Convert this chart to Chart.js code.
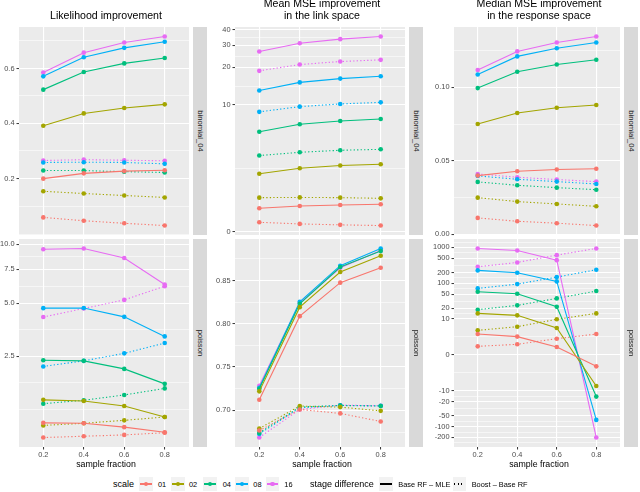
<!DOCTYPE html>
<html>
<head>
<meta charset="utf-8">
<script src="https://cdn.jsdelivr.net/npm/chart.js@4.4.0/dist/chart.umd.min.js"></script>
<style>
body { margin: 0; background: #fff; font-family: "Liberation Sans", Arial, sans-serif; }
#fig { position: relative; width: 640px; height: 492px; overflow: hidden; }
#fig canvas { position: absolute; }
.title { position: absolute; font-size: 10.6px; line-height: 11.5px; text-align: center; color: #000; white-space: nowrap; }
.strip { position: absolute; background: #D9D9D9; }
.strip span { position: absolute; left: 50%; top: 50%; transform: translate(-50%, -50%) rotate(90deg); font-size: 7.7px; color: #1A1A1A; white-space: nowrap; }
.xtitle { position: absolute; font-size: 8.8px; line-height: 11px; text-align: center; color: #000; }
.leg { position: absolute; white-space: nowrap; color: #000; }
.key { position: absolute; width: 13.5px; height: 13.5px; background: #F2F2F2; }
.key .ln { position: absolute; left: 1px; right: 1px; top: 6.2px; height: 1.1px; }
.key .pt { position: absolute; left: 4.5px; top: 4.5px; width: 4.6px; height: 4.6px; border-radius: 50%; }
</style>
</head>
<body>
<div id="fig"></div>
<script>
const fractions = ['0.2', '0.4', '0.6', '0.8'];
const scaleLevels = ['01', '02', '04', '08', '16'];
const stageLevels = ['Base RF – MLE', 'Boost – Base RF'];
const scaleColors = ['#F8766D', '#A3A500', '#00BF7D', '#00B0F6', '#E76BF3'];

// one row per scale level (01, 02, 04, 08, 16), one value per sample fraction
// Likelihood improvement
const likBinomBase = [
    [0.200, 0.219, 0.227, 0.230],
    [0.390, 0.435, 0.455, 0.468],
    [0.522, 0.587, 0.619, 0.639],
    [0.571, 0.642, 0.677, 0.700],
    [0.585, 0.659, 0.697, 0.720]
];
const likBinomBoost = [
    [0.062, 0.050, 0.041, 0.033],
    [0.155, 0.147, 0.140, 0.133],
    [0.229, 0.229, 0.225, 0.222],
    [0.258, 0.259, 0.258, 0.253],
    [0.265, 0.268, 0.266, 0.264]
];
const likPoisBase = [
    [0.59, 0.58, 0.49, 0.37],
    [1.16, 1.13, 1.00, 0.73],
    [2.35, 2.33, 2.06, 1.60],
    [4.70, 4.71, 4.22, 3.28],
    [9.46, 9.54, 8.54, 6.26]
];
const likPoisBoost = [
    [0.25, 0.28, 0.31, 0.36],
    [0.53, 0.58, 0.65, 0.73],
    [1.06, 1.15, 1.29, 1.47],
    [2.14, 2.33, 2.60, 3.00],
    [4.21, 4.68, 5.20, 6.13]
];

// Mean MSE improvement in the link space
const linkBinomBase = [
    [0.88, 0.97, 1.01, 1.04],
    [2.53, 2.86, 3.04, 3.13],
    [6.04, 6.96, 7.40, 7.70],
    [13.1, 15.2, 16.3, 17.0],
    [26.8, 31.2, 33.6, 35.3]
];
const linkBinomBoost = [
    [0.34, 0.28, 0.245, 0.22],
    [1.32, 1.33, 1.32, 1.29],
    [3.76, 4.02, 4.19, 4.27],
    [8.8, 9.7, 10.2, 10.5],
    [18.8, 21.1, 22.3, 23.0]
];
const linkPoisBase = [
    [0.7122, 0.8086, 0.8477, 0.8652],
    [0.7218, 0.8191, 0.8602, 0.8793],
    [0.7248, 0.8230, 0.8660, 0.8848],
    [0.7260, 0.8254, 0.8676, 0.8879],
    [0.7282, 0.8242, 0.8652, 0.8856]
];
const linkPoisBoost = [
    [0.6771, 0.7011, 0.6966, 0.6874],
    [0.6794, 0.7050, 0.7038, 0.6995],
    [0.6744, 0.7040, 0.7056, 0.7050],
    [0.6732, 0.7030, 0.7058, 0.7053],
    [0.6691, 0.7011, 0.7060, 0.7053]
];

// Median MSE improvement in the response space
const respBinomBase = [
    [0.0399, 0.0429, 0.0440, 0.0446],
    [0.0750, 0.0825, 0.0861, 0.0880],
    [0.0995, 0.1106, 0.1156, 0.1188],
    [0.1088, 0.1211, 0.1267, 0.1306],
    [0.1118, 0.1245, 0.1306, 0.1347]
];
const respBinomBoost = [
    [0.0111, 0.0088, 0.0075, 0.0059],
    [0.0249, 0.0222, 0.0206, 0.0190],
    [0.0356, 0.0333, 0.0317, 0.0303],
    [0.0397, 0.0374, 0.0358, 0.0342],
    [0.0410, 0.0388, 0.0372, 0.0358]
];
const respPoisBase = [
    [3.58, 2.95, 1.07, -1.59],
    [14.4, 12.7, 5.5, -7.2],
    [58, 51, 22.2, -14.4],
    [229, 197, 113, -64.7],
    [938, 825, 443, -201]
];
const respPoisBoost = [
    [1.17, 1.48, 2.5, 3.58],
    [4.66, 6.0, 9.8, 14.4],
    [18.3, 24.2, 37.9, 60.7],
    [72, 95, 149, 239],
    [289, 382, 611, 938]
];

// y tick labels
const likBinomTicks = ['0.2', '0.4', '0.6'];
const likPoisTicks = ['2.5', '5.0', '7.5', '10.0'];
const linkBinomTicks = ['0', '10', '20', '30', '40'];
const linkPoisTicks = ['0.70', '0.75', '0.80', '0.85'];
const respBinomTicks = ['0.00', '0.05', '0.10'];
const respPoisTicks = ['-200', '-100', '-50', '-20', '-10', '0', '10', '20', '50', '100', '200', '500', '1000'];

const colTitles = [['Likelihood improvement'], ['Mean MSE improvement', 'in the link space'], ['Median MSE improvement', 'in the response space']];
const rowLabels = ['binomial_04', 'poisson'];

// ggplot style pseudo-log axis: asinh(x/2), 5% expansion, minor lines halfway
const tf = v => Math.asinh(v / 2);
const itf = t => 2 * Math.sinh(t);

class PseudoLogScale extends Chart.LinearScale {
    determineDataLimits() {
        super.determineDataLimits();
        const lo = tf(this.min), hi = tf(this.max), pad = (hi - lo) * 0.05;
        this._tLo = lo - pad;
        this._tHi = hi + pad;
    }
    buildTicks() {
        const lo = this._tLo, hi = this._tHi;
        const labs = Array.from(this.options.breakLabels);
        const major = labs.map(s => ({value: Number(s), lab: s}))
            .filter(t => tf(t.value) >= lo && tf(t.value) <= hi);
        const b = major.map(t => tf(t.value)).sort((a, c) => a - c);
        const bd = b[1] - b[0];
        if (lo < b[0]) b.unshift(b[0] - bd);
        if (hi > b[b.length - 1]) b.push(b[b.length - 1] + bd);
        let cand = b.slice();
        for (let i = 0; i < b.length - 1; i++) cand.push((b[i] + b[i + 1]) / 2);
        const minor = cand.filter(t => t >= lo && t <= hi && !major.some(m => Math.abs(tf(m.value) - t) < 1e-9))
            .map(t => ({value: itf(t), minor: true, lab: ''}));
        return minor.concat(major);
    }
    getPixelForValue(value) {
        return this.getPixelForDecimal((tf(value) - this._tLo) / (this._tHi - this._tLo));
    }
    getValueForPixel(pixel) {
        return itf(this._tLo + this.getDecimalForPixel(pixel) * (this._tHi - this._tLo));
    }
}
PseudoLogScale.id = 'pseudolog';
PseudoLogScale.defaults = {};
Chart.register(PseudoLogScale);

const panelBg = {
    id: 'panelBg',
    beforeDraw(chart) {
        const a = chart.chartArea, c = chart.ctx;
        c.save();
        c.fillStyle = '#EBEBEB';
        c.fillRect(a.left, a.top, a.right - a.left, a.bottom - a.top);
        c.restore();
    }
};

const cols = [
    {left: 19, right: 193, axis: 19},
    {left: 235, right: 409, axis: 28},
    {left: 454, right: 624, axis: 31}
];
const rows = [{top: 27, bottom: 235}, {top: 239, bottom: 447}];
const stripW = 14;

const panels = [
    {col: 0, row: 0, base: likBinomBase, boost: likBinomBoost, ticks: likBinomTicks},
    {col: 1, row: 0, base: linkBinomBase, boost: linkBinomBoost, ticks: linkBinomTicks},
    {col: 2, row: 0, base: respBinomBase, boost: respBinomBoost, ticks: respBinomTicks},
    {col: 0, row: 1, base: likPoisBase, boost: likPoisBoost, ticks: likPoisTicks},
    {col: 1, row: 1, base: linkPoisBase, boost: linkPoisBoost, ticks: linkPoisTicks},
    {col: 2, row: 1, base: respPoisBase, boost: respPoisBoost, ticks: respPoisTicks}
];

const fig = document.getElementById('fig');
const FONT = '"Liberation Sans", Arial, sans-serif';

function addDiv(cls, css, html) {
    const d = document.createElement('div');
    d.className = cls;
    Object.assign(d.style, css);
    if (html !== undefined) d.innerHTML = html;
    fig.appendChild(d);
    return d;
}

function makeSets(p) {
    const sets = [];
    [p.base, p.boost].forEach((series, s) => {
        series.forEach((vals, k) => {
            sets.push({
                label: scaleLevels[k] + ' ' + stageLevels[s],
                data: vals.map((v, i) => ({x: i + 1, y: v})),
                borderColor: scaleColors[k],
                backgroundColor: scaleColors[k],
                borderWidth: 1.1,
                borderDash: s === 1 ? [1.3, 2.2] : [],
                pointRadius: 2.3,
                pointBorderWidth: 0,
                pointBackgroundColor: scaleColors[k],
                tension: 0
            });
        });
    });
    return sets;
}

panels.forEach(p => {
    const col = cols[p.col], row = rows[p.row];
    const bottomRow = p.row === 1;
    const padTop = 8, padBottom = bottomRow ? 0 : 8, xh = bottomRow ? 13 : 0;
    const w = col.axis + col.right - col.left;
    const h = padTop + (row.bottom - row.top) + padBottom + xh;
    const cv = document.createElement('canvas');
    cv.width = w;
    cv.height = h;
    cv.style.left = (col.left - col.axis) + 'px';
    cv.style.top = (row.top - padTop) + 'px';
    cv.style.width = w + 'px';
    cv.style.height = h + 'px';
    fig.appendChild(cv);

    new Chart(cv, {
        type: 'line',
        data: {datasets: makeSets(p)},
        options: {
            responsive: false,
            animation: false,
            events: [],
            layout: {padding: {top: padTop, bottom: padBottom, left: 0, right: 0}},
            plugins: {legend: {display: false}, tooltip: {enabled: false}},
            scales: {
                x: {
                    type: 'linear',
                    min: 0.4,
                    max: 4.6,
                    bounds: 'data',
                    afterBuildTicks: s => { s.ticks = fractions.map((f, i) => ({value: i + 1})); },
                    afterFit: s => { s.height = xh; },
                    border: {display: false},
                    grid: {color: '#FFFFFF', lineWidth: 1.1, drawTicks: bottomRow, tickLength: 2.5, tickColor: '#333333', tickWidth: 1},
                    ticks: {
                        display: bottomRow,
                        autoSkip: false,
                        maxRotation: 0,
                        padding: 1.5,
                        color: '#4D4D4D',
                        font: {family: FONT, size: 7.4},
                        callback: v => fractions[Math.round(v) - 1]
                    }
                },
                y: {
                    type: 'pseudolog',
                    breakLabels: p.ticks,
                    afterFit: s => { s.width = col.axis; },
                    border: {display: false},
                    grid: {
                        color: '#FFFFFF',
                        lineWidth: c => (c.tick && c.tick.minor ? 0.55 : 1.1),
                        tickColor: c => (c.tick && c.tick.minor ? 'rgba(0,0,0,0)' : '#333333'),
                        tickWidth: 1,
                        tickLength: 2.5
                    },
                    ticks: {
                        autoSkip: false,
                        padding: 2,
                        color: '#4D4D4D',
                        font: {family: FONT, size: 7.4},
                        callback: (v, i, ticks) => ticks[i].lab || ''
                    }
                }
            }
        },
        plugins: [panelBg]
    });

    addDiv('strip', {left: col.right + 'px', top: row.top + 'px', width: stripW + 'px', height: (row.bottom - row.top) + 'px'},
        '<span>' + rowLabels[p.row] + '</span>');
});

cols.forEach((col, c) => {
    const lines = colTitles[c];
    addDiv('title', {left: col.left + 'px', width: (col.right - col.left) + 'px', top: (21 - lines.length * 11.5) + 'px'},
        lines.join('<br>'));
    addDiv('xtitle', {left: col.left + 'px', width: (col.right - col.left) + 'px', top: '458.5px'}, 'sample fraction');
});

// legend
const legY = 484;
addDiv('leg', {left: '113px', top: (legY - 5.5) + 'px', fontSize: '9px', lineHeight: '11px'}, 'scale');
const keyX = [139.3, 171, 203.3, 235, 265.7];
const keyLabX = [158, 189, 222.7, 253.3, 284.3];
scaleLevels.forEach((s, k) => {
    const key = addDiv('key', {left: keyX[k] + 'px', top: (legY - 6.75) + 'px'});
    const ln = document.createElement('div');
    ln.className = 'ln';
    ln.style.background = scaleColors[k];
    key.appendChild(ln);
    const pt = document.createElement('div');
    pt.className = 'pt';
    pt.style.background = scaleColors[k];
    key.appendChild(pt);
    addDiv('leg', {left: keyLabX[k] + 'px', top: (legY - 4.5) + 'px', fontSize: '7.4px', lineHeight: '9px'}, s);
});
addDiv('leg', {left: '310px', top: (legY - 5.5) + 'px', fontSize: '9px', lineHeight: '11px'}, 'stage difference');
const stageKeyX = [379.3, 452.7];
const stageLabX = [398.3, 471.7];
stageLevels.forEach((s, i) => {
    const key = addDiv('key', {left: stageKeyX[i] + 'px', top: (legY - 6.75) + 'px'});
    const ln = document.createElement('div');
    ln.className = 'ln';
    ln.style.background = i === 0 ? '#000' : 'repeating-linear-gradient(to right, #000 0 1.3px, transparent 1.3px 3.5px)';
    key.appendChild(ln);
    addDiv('leg', {left: stageLabX[i] + 'px', top: (legY - 4.5) + 'px', fontSize: '7.4px', lineHeight: '9px'}, s);
});
</script>
</body>
</html>
